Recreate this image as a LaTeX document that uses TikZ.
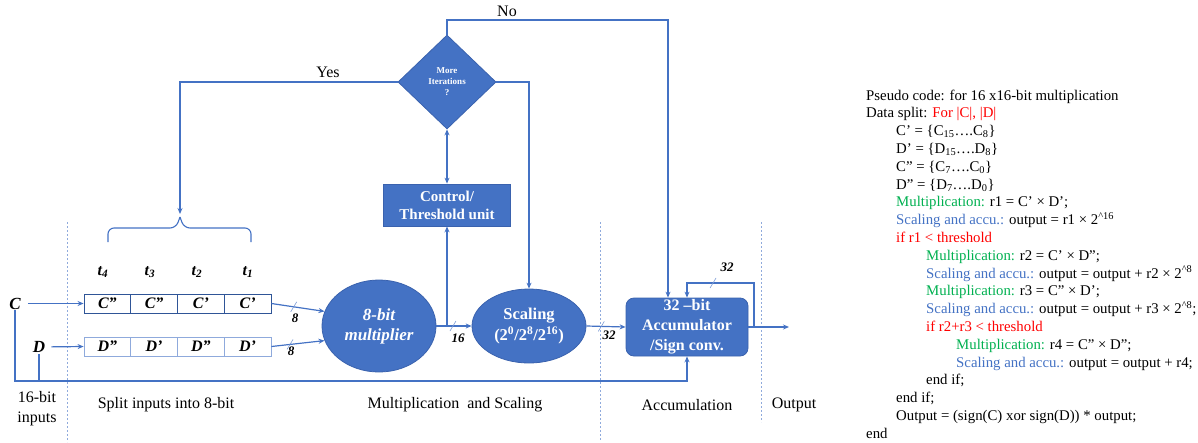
\documentclass[tikz,border=0pt]{standalone}
\usepackage{fontspec}
\setmainfont{Liberation Serif}
\usetikzlibrary{shapes.geometric,arrows.meta,calc}
\definecolor{ofblue}{HTML}{4472C4}
\definecolor{ofedge}{HTML}{3A62AE}
\definecolor{regdark}{HTML}{2F5597}
\definecolor{reglight}{HTML}{8FAADC}
\definecolor{sepblue}{HTML}{8FAADC}
\definecolor{pgreen}{HTML}{00B050}
\definecolor{pblue}{HTML}{4472C4}
\newcommand\pcind{\hspace*{30pt}}
\newcommand\fsz[2]{\fontsize{#1}{#2}\selectfont}
\begin{document}
\begin{tikzpicture}[x=1pt,y=-1pt,
  wire/.style={draw=ofblue, line width=1.2pt},
  arr/.style={wire, -{Stealth[length=6pt,width=5pt]}},
  arrboth/.style={wire, {Stealth[length=6pt,width=5pt]}-{Stealth[length=6pt,width=5pt]}},
  slash/.style={draw=ofblue!70, line width=0.6pt},
  blk/.style={fill=ofblue, draw=ofedge, line width=0.8pt, text=white, align=center, inner sep=0pt},
  ell/.style={blk, ellipse},
  cellc/.style={draw=regdark, fill=white, line width=0.9pt, minimum width=46.75pt, minimum height=19pt, inner sep=0pt, font=\fsz{16}{16}\bfseries\itshape},
  celld/.style={cellc, draw=reglight},
  sep/.style={draw=sepblue, line width=0.8pt, dash pattern=on 2pt off 2pt},
  bitw/.style={font=\fsz{13}{13}\bfseries\itshape, inner sep=0pt},
  inlab/.style={font=\fsz{17}{17}\bfseries\itshape, inner sep=1pt},
  tlab/.style={font=\fsz{16}{16}\bfseries\itshape, inner sep=0pt},
  lbl/.style={font=\fsz{16}{20}, inner sep=0pt, align=center}
]
\useasboundingbox (0,0) rectangle (1198,442);

% stage separators
\draw[sep] (67,222) -- (67,442);
\draw[sep] (600,222) -- (600,440);
\draw[sep] (761,222) -- (761,422);

% inputs
\node[inlab] (Cin) at (15,303.5) {C};
\node[inlab] (Din) at (39,347) {D};

% split registers
\node[cellc] (c4) at (107.4,303.5) {C”};
\node[cellc] (c3) at (154.1,303.5) {C”};
\node[cellc] (c2) at (200.9,303.5) {C’};
\node[cellc] (c1) at (247.6,303.5) {C’};
\node[celld] (d4) at (107.4,346.5) {D”};
\node[celld] (d3) at (154.1,346.5) {D’};
\node[celld] (d2) at (200.9,346.5) {D”};
\node[celld] (d1) at (247.6,346.5) {D’};

\node[tlab] (t4) at (103,272) {t\textsubscript{4}};
\node[tlab] (t3) at (150,272) {t\textsubscript{3}};
\node[tlab] (t2) at (197,272) {t\textsubscript{2}};
\node[tlab] (t1) at (248,272) {t\textsubscript{1}};

% processing blocks
\node[ell, minimum width=114pt, minimum height=92pt, font=\fsz{17}{20}\bfseries\itshape] (mult) at (379,326) {8-bit\\multiplier};
\node[ell, minimum width=114pt, minimum height=74pt, font=\fsz{16.5}{21}\bfseries] (scal) at (529,326) {Scaling\\(2\textsuperscript{0}/2\textsuperscript{8}/2\textsuperscript{16})};
\node[blk, rounded corners=8pt, minimum width=122pt, minimum height=58pt, font=\fsz{16}{20}\bfseries] (acc) at (687,327) {32 –bit\\Accumulator\\/Sign conv.};
\node[blk, minimum width=127pt, minimum height=42pt, font=\fsz{15}{18}\bfseries] (ctrl) at (447,205) {Control/\\Threshold unit};
\node[blk, diamond, minimum width=98pt, minimum height=94pt, font=\fsz{9}{11}\bfseries] (dia) at (447,82) {More\\Iterations\\?};

% input feeds
\draw[arr, shorten <=6pt] (Cin) -- (c4.west);
\draw[arr, shorten <=5pt] (Din) -- (d4.west);

% registers to multiplier
\draw[arr] (c1.east) -- coordinate[pos=0.42] (sC) (mult.165);
\draw[slash] ($(sC)+(-3,5)$) -- ($(sC)+(3,-5)$);
\node[bitw] (w8a) at (295,318) {8};
\draw[arr] (d1.east) -- coordinate[pos=0.35] (sD) (mult.195);
\draw[slash] ($(sD)+(-3,5)$) -- ($(sD)+(3,-5)$);
\node[bitw] (w8b) at (291,351) {8};

% multiplier to scaling, tap to control unit
\draw[arr] (mult.east) -- coordinate[pos=0.47] (s16) (scal.west);
\draw[slash] ($(s16)+(-3,5)$) -- ($(s16)+(3,-5)$);
\node[bitw] (w16) at (458,338) {16};
\draw[arr] (ctrl.south |- mult.east) -- (ctrl.south);

% scaling to accumulator
\draw[arr] (scal.east) -- coordinate[pos=0.38] (s32) (acc.west);
\draw[slash] ($(s32)+(-3,5)$) -- ($(s32)+(3,-5)$);
\node[bitw] (w32) at (609,335) {32};

% control unit and decision
\draw[arrboth] (ctrl.north) -- (dia.south);
\draw[arr] (dia.east) -| (scal.north);
\coordinate (noTop) at (668,20);
\draw[arr] (dia.north) |- (noTop) -- (noTop |- acc.north);
\node[lbl] (no) at (507,11) {No};
\coordinate (braceTip) at (180,214);
\draw[arr] (dia.west) -| (braceTip);
\node[lbl] (yes) at (328,72) {Yes};

% time-step brace
\coordinate (brL) at (108,242);
\coordinate (brR) at (251,242);
\coordinate (brM) at (180,217);
\draw[wire, line width=1.1pt, rounded corners=6pt]
  (brL) -- (108,228) -- (176,228) -- (brM);
\draw[wire, line width=1.1pt, rounded corners=6pt]
  (brR) -- (251,228) -- (184,228) -- (brM);

% accumulator output and feedback
\coordinate (outEnd) at (789,327);
\draw[arr] (acc.east) -- (outEnd);
\coordinate (fbTop) at (754,283);
\draw[arr] (acc.east -| fbTop) -- (fbTop) -| (acc.north);
\coordinate (sFb) at (713,283);
\draw[slash] ($(sFb)+(-3,5)$) -- ($(sFb)+(3,-5)$);
\node[bitw] (w32b) at (727,267) {32};

% sign path from the 16-bit inputs
\coordinate (bus) at (16,381);
\draw[arr] (Cin.south) -- (Cin.south |- bus) -| (acc.south);
\draw[wire, line width=2pt] (Din.south) -- (Din.south |- bus);

% stage captions
\node[lbl] (capIn) at (37,409) {16-bit\\inputs};
\node[lbl] (capSplit) at (166,405) {Split inputs into 8-bit};
\node[lbl] (capMul) at (455,405) {Multiplication\ \ and Scaling};
\node[lbl] (capAcc) at (687,405) {Accumulation};
\node[lbl] (capOut) at (794,405) {Output};

% pseudo code
\node[anchor=north west, inner sep=0pt, align=left, font=\fsz{14.8}{17.8}] (code) at (866,89.5) {%
Pseudo code: for 16 x16-bit multiplication\\
Data split: \textcolor{red}{For |C|, |D|}\\
\pcind C’ = \{C\textsubscript{15}….C\textsubscript{8}\}\\
\pcind D’ = \{D\textsubscript{15}….D\textsubscript{8}\}\\
\pcind C” = \{C\textsubscript{7}….C\textsubscript{0}\}\\
\pcind D” = \{D\textsubscript{7}….D\textsubscript{0}\}\\
\pcind \textcolor{pgreen}{Multiplication:} r1 = C’ × D’;\\
\pcind \textcolor{pblue}{Scaling and accu.:} output = r1 × 2\textsuperscript{\textasciicircum16}\\
\pcind \textcolor{red}{if r1 < threshold}\\
\pcind\pcind \textcolor{pgreen}{Multiplication:} r2 = C’ × D”;\\
\pcind\pcind \textcolor{pblue}{Scaling and accu.:} output = output + r2 × 2\textsuperscript{\textasciicircum8}\\
\pcind\pcind \textcolor{pgreen}{Multiplication:} r3 = C” × D’;\\
\pcind\pcind \textcolor{pblue}{Scaling and accu.:} output = output + r3 × 2\textsuperscript{\textasciicircum8};\\
\pcind\pcind \textcolor{red}{if r2+r3 < threshold}\\
\pcind\pcind\pcind \textcolor{pgreen}{Multiplication:} r4 = C” × D”;\\
\pcind\pcind\pcind \textcolor{pblue}{Scaling and accu.:} output = output + r4;\\
\pcind\pcind end if;\\
\pcind end if;\\
\pcind Output = (sign(C) xor sign(D)) * output;\\
end};
\end{tikzpicture}
\end{document}
